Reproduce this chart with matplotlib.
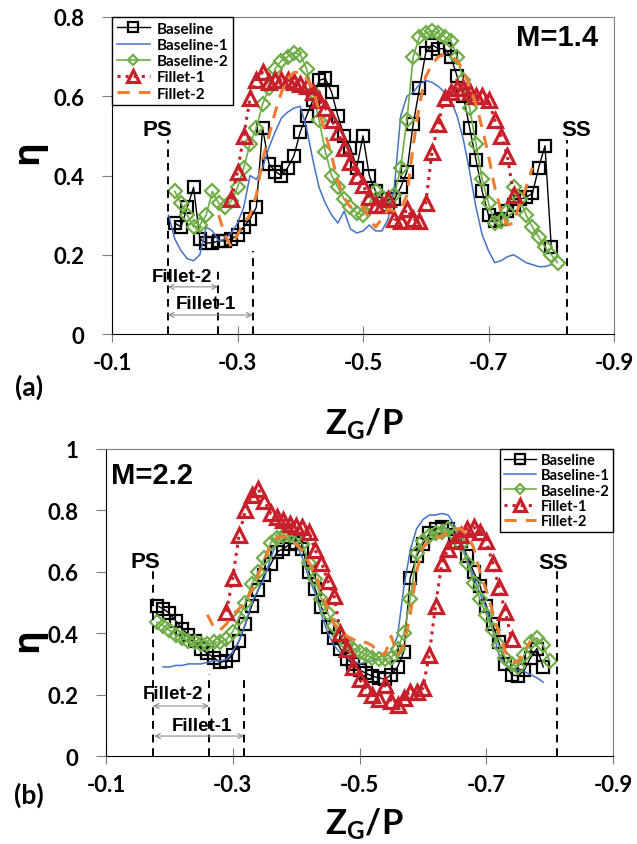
import numpy as np
import matplotlib
matplotlib.use('Agg')
import matplotlib.pyplot as plt

plt.rcParams['font.family'] = ['Lato', 'DejaVu Sans']
plt.rcParams['font.weight'] = 'bold'
plt.rcParams['mathtext.fontset'] = 'custom'
plt.rcParams['mathtext.rm'] = 'Lato:bold'
plt.rcParams['mathtext.it'] = 'Lato:bold'
plt.rcParams['mathtext.bf'] = 'Lato:bold'

SERIES = ['Baseline', 'Baseline-1', 'Baseline-2', 'Fillet-1', 'Fillet-2']
X_TICKS = [-0.1, -0.3, -0.5, -0.7, -0.9]
X_TICK_LABELS = ['-0.1', '-0.3', '-0.5', '-0.7', '-0.9']

# eta sampled every 0.01 of Z_G/P, beginning at the listed start position
# (a) M = 1.4
A_START = [-0.20, -0.19, -0.20, -0.29, -0.27]
A_BASE = [0.28, 0.27, 0.32, 0.37, 0.24, 0.23, 0.23, 0.235, 0.235, 0.24,
          0.25, 0.27, 0.29, 0.32, 0.52, 0.43, 0.41, 0.40, 0.42, 0.45,
          0.51, 0.55, 0.59, 0.64, 0.645, 0.61, 0.55, 0.50, 0.47, 0.42,
          0.50, 0.40, 0.36, 0.34, 0.325, 0.34, 0.37, 0.41, 0.53, 0.62,
          0.71, 0.73, 0.72, 0.72, 0.70, 0.65, 0.60, 0.52, 0.44, 0.36,
          0.30, 0.285, 0.29, 0.31, 0.325, 0.34, 0.345, 0.355, 0.42, 0.475,
          0.22]
A_BASE1 = [0.30, 0.24, 0.21, 0.19, 0.185, 0.20, 0.27, 0.26, 0.235, 0.24,
           0.255, 0.28, 0.32, 0.40, 0.39, 0.42, 0.47, 0.51, 0.545, 0.56,
           0.57, 0.575, 0.52, 0.44, 0.37, 0.33, 0.30, 0.28, 0.31, 0.265,
           0.255, 0.26, 0.275, 0.26, 0.26, 0.29, 0.37, 0.55, 0.60, 0.61,
           0.63, 0.64, 0.635, 0.625, 0.61, 0.59, 0.55, 0.49, 0.41, 0.32,
           0.25, 0.21, 0.18, 0.185, 0.195, 0.20, 0.19, 0.18, 0.175, 0.17,
           0.17, 0.175]
A_BASE2 = [0.36, 0.33, 0.30, 0.27, 0.275, 0.30, 0.36, 0.33, 0.32, 0.335,
           0.37, 0.42, 0.48, 0.52, 0.58, 0.62, 0.67, 0.69, 0.70, 0.71,
           0.705, 0.67, 0.61, 0.54, 0.46, 0.40, 0.37, 0.34, 0.32, 0.305,
           0.30, 0.33, 0.36, 0.345, 0.33, 0.35, 0.42, 0.54, 0.70, 0.75,
           0.76, 0.765, 0.76, 0.75, 0.74, 0.70, 0.64, 0.57, 0.48, 0.39,
           0.33, 0.28, 0.285, 0.31, 0.37, 0.34, 0.30, 0.27, 0.245, 0.22,
           0.20, 0.18]
A_FIL1 = [0.34, 0.41, 0.50, 0.595, 0.64, 0.66, 0.635, 0.64, 0.64, 0.64,
          0.635, 0.63, 0.625, 0.61, 0.59, 0.57, 0.54, 0.51, 0.47, 0.435,
          0.40, 0.375, 0.345, 0.325, 0.325, 0.34, 0.29, 0.285, 0.315, 0.29,
          0.285, 0.33, 0.46, 0.53, 0.595, 0.61, 0.62, 0.62, 0.61, 0.60,
          0.60, 0.59, 0.54, 0.50, 0.45, 0.35]
A_FIL2 = [0.30, 0.25, 0.22, 0.25, 0.28, 0.30, 0.35, 0.44, 0.50, 0.56,
          0.61, 0.645, 0.66, 0.66, 0.645, 0.62, 0.565, 0.505, 0.45, 0.385,
          0.345, 0.32, 0.325, 0.32, 0.29, 0.27, 0.29, 0.315, 0.31, 0.315,
          0.35, 0.475, 0.58, 0.65, 0.68, 0.70, 0.705, 0.70, 0.69, 0.665,
          0.625, 0.58, 0.52, 0.45, 0.37, 0.31, 0.275, 0.28, 0.33, 0.37,
          0.42]

# (b) M = 2.2
B_START = [-0.18, -0.19, -0.18, -0.29, -0.26]
B_BASE = [0.49, 0.48, 0.465, 0.44, 0.415, 0.395, 0.375, 0.35, 0.335, 0.32,
          0.305, 0.31, 0.33, 0.375, 0.43, 0.49, 0.54, 0.59, 0.625, 0.665,
          0.675, 0.69, 0.695, 0.675, 0.60, 0.545, 0.485, 0.42, 0.385, 0.35,
          0.315, 0.30, 0.28, 0.27, 0.26, 0.255, 0.25, 0.265, 0.29, 0.34,
          0.58, 0.65, 0.69, 0.725, 0.74, 0.745, 0.74, 0.72, 0.70, 0.65,
          0.60, 0.555, 0.49, 0.43, 0.37, 0.30, 0.265, 0.26, 0.28, 0.32,
          0.35, 0.29]
B_BASE1 = [0.29, 0.29, 0.295, 0.295, 0.30, 0.30, 0.30, 0.305, 0.31, 0.31,
           0.315, 0.34, 0.375, 0.43, 0.50, 0.54, 0.58, 0.645, 0.70, 0.745,
           0.73, 0.69, 0.645, 0.58, 0.53, 0.46, 0.40, 0.36, 0.335, 0.32,
           0.31, 0.30, 0.305, 0.31, 0.32, 0.33, 0.34, 0.39, 0.55, 0.67,
           0.74, 0.77, 0.785, 0.785, 0.79, 0.785, 0.75, 0.70, 0.64, 0.585,
           0.53, 0.48, 0.41, 0.33, 0.30, 0.285, 0.28, 0.275, 0.265, 0.255,
           0.24]
B_BASE2 = [0.435, 0.425, 0.41, 0.395, 0.385, 0.375, 0.37, 0.365, 0.365, 0.37,
           0.37, 0.38, 0.405, 0.45, 0.50, 0.56, 0.60, 0.645, 0.695, 0.71,
           0.715, 0.72, 0.71, 0.69, 0.63, 0.575, 0.51, 0.465, 0.425, 0.39,
           0.365, 0.35, 0.34, 0.33, 0.32, 0.315, 0.315, 0.32, 0.35, 0.40,
           0.51, 0.66, 0.70, 0.715, 0.725, 0.73, 0.74, 0.72, 0.69, 0.63,
           0.565, 0.51, 0.46, 0.41, 0.36, 0.32, 0.30, 0.29, 0.33, 0.37,
           0.385, 0.36, 0.31]
B_FIL1 = [0.47, 0.58, 0.72, 0.80, 0.85, 0.87, 0.83, 0.79, 0.78, 0.77,
          0.755, 0.75, 0.745, 0.73, 0.67, 0.63, 0.57, 0.52, 0.40, 0.35,
          0.29, 0.25, 0.22, 0.20, 0.185, 0.23, 0.18, 0.165, 0.19, 0.21,
          0.21, 0.22, 0.33, 0.49, 0.63, 0.675, 0.70, 0.72, 0.74, 0.745,
          0.73, 0.70, 0.63, 0.55, 0.47, 0.38]
B_FIL2 = [0.46, 0.42, 0.41, 0.43, 0.46, 0.48, 0.50, 0.54, 0.59, 0.64,
          0.69, 0.71, 0.715, 0.705, 0.69, 0.67, 0.63, 0.60, 0.53, 0.48,
          0.43, 0.41, 0.39, 0.38, 0.37, 0.37, 0.36, 0.335, 0.33, 0.39,
          0.33, 0.36, 0.46, 0.60, 0.68, 0.70, 0.71, 0.715, 0.73, 0.74,
          0.74, 0.72, 0.68, 0.60, 0.54, 0.47, 0.40, 0.34, 0.31, 0.305,
          0.34, 0.375]

# wall markers: PS edge, fillet-2 end, fillet-1 end, SS edge
A_WALLS = [-0.189, -0.269, -0.324, -0.825]
A_WALL_TOPS = [0.49, 0.165, 0.21, 0.49]
B_WALLS = [-0.174, -0.2625, -0.318, -0.812]
B_WALL_TOPS = [0.608, 0.267, 0.26, 0.608]

STYLES = {
    'Baseline': dict(color='black', marker='s', ms=8.5, mfc='none', mew=1.6, lw=1.0),
    'Baseline-1': dict(color='#4472C4', lw=1.1),
    'Baseline-2': dict(color='#70AD47', marker='D', ms=7, mfc='none', mew=1.6, lw=1.2),
    'Fillet-1': dict(color='#C8202A', marker='^', ms=10, mfc='none', mew=2.3, ls=':', lw=2.2),
    'Fillet-2': dict(color='#ED7D31', ls=(0, (4, 3)), lw=2.2),
}

ANNOT_FONT = dict(family='Liberation Sans', weight='bold')


def z_positions(start, count):
    return start - 0.01 * np.arange(count)


def draw_panel(ax, starts, curves, walls, wall_tops, ymax, yticks, ylabels):
    for name, start, eta in zip(SERIES, starts, curves):
        ax.plot(z_positions(start, len(eta)), eta, label=name, **STYLES[name])
    for x, top in zip(walls, wall_tops):
        ax.plot([x, x], [0, top], color='black', ls=(0, (4, 3)), lw=1.4)
    ax.set_xlim(-0.1, -0.9)
    ax.set_ylim(0, ymax)
    ax.set_xticks(X_TICKS)
    ax.set_xticklabels(X_TICK_LABELS)
    ax.set_yticks(yticks)
    ax.set_yticklabels(ylabels)
    ax.tick_params(axis='x', direction='inout', length=12, color='#7f7f7f',
                   labelsize=16, pad=7)
    ax.tick_params(axis='y', direction='out', length=7, color='#7f7f7f',
                   labelsize=16, pad=13)
    for s in ['top', 'right']:
        ax.spines[s].set_color('#808080')
    for s in ['left', 'bottom']:
        ax.spines[s].set_color('black')


def fillet_arrow(ax, x0, x1, y):
    ax.annotate('', xy=(x1, y), xytext=(x0, y),
                arrowprops=dict(arrowstyle='<->', color='#8c8c8c', lw=0.8,
                                mutation_scale=9, shrinkA=0, shrinkB=0))


fig = plt.figure(figsize=(6.37, 8.45), dpi=100)
W, H = 637.0, 845.0

ax_a = fig.add_axes([112 / W, 1 - 335 / H, 502 / W, 317 / H])
draw_panel(ax_a, A_START, [A_BASE, A_BASE1, A_BASE2, A_FIL1, A_FIL2],
           A_WALLS, A_WALL_TOPS, 0.8,
           [0, 0.2, 0.4, 0.6, 0.8], ['0', '0.2', '0.4', '0.6', '0.8'])
fillet_arrow(ax_a, A_WALLS[0], A_WALLS[1], 0.119)
fillet_arrow(ax_a, A_WALLS[0], A_WALLS[2], 0.048)
ax_a.text(-0.173, 0.516, 'PS', fontsize=16, ha='center', va='center', **ANNOT_FONT)
ax_a.text(-0.839, 0.516, 'SS', fontsize=16, ha='center', va='center', **ANNOT_FONT)
ax_a.text(-0.2116, 0.144, 'Fillet-2', fontsize=13.5, ha='center', va='center', **ANNOT_FONT)
ax_a.text(-0.25, 0.078, 'Fillet-1', fontsize=13.5, ha='center', va='center', **ANNOT_FONT)
ax_a.text(-0.809, 0.749, 'M=1.4', fontsize=21, ha='center', va='center', **ANNOT_FONT)
ax_a.legend(loc='upper left', bbox_to_anchor=(0, 1), borderaxespad=0,
            fontsize=11, frameon=True, fancybox=False, edgecolor='black',
            framealpha=1, handlelength=2.2, handletextpad=0.4,
            labelspacing=0.15, borderpad=0.3, numpoints=1,
            markerscale=0.8).get_frame().set_linewidth(1.0)

ax_b = fig.add_axes([106 / W, 1 - 757 / H, 507 / W, 307 / H])
draw_panel(ax_b, B_START, [B_BASE, B_BASE1, B_BASE2, B_FIL1, B_FIL2],
           B_WALLS, B_WALL_TOPS, 1.0,
           [0, 0.2, 0.4, 0.6, 0.8, 1.0], ['0', '0.2', '0.4', '0.6', '0.8', '1'])
fillet_arrow(ax_b, B_WALLS[0], B_WALLS[1], 0.163)
fillet_arrow(ax_b, -0.176, B_WALLS[2], 0.065)
ax_b.text(-0.1615, 0.634, 'PS', fontsize=16, ha='center', va='center', **ANNOT_FONT)
ax_b.text(-0.805, 0.63, 'SS', fontsize=16, ha='center', va='center', **ANNOT_FONT)
ax_b.text(-0.2057, 0.205, 'Fillet-2', fontsize=13.5, ha='center', va='center', **ANNOT_FONT)
ax_b.text(-0.2515, 0.10, 'Fillet-1', fontsize=13.5, ha='center', va='center', **ANNOT_FONT)
ax_b.text(-0.1726, 0.914, 'M=2.2', fontsize=21, ha='center', va='center', **ANNOT_FONT)
ax_b.legend(loc='upper right', bbox_to_anchor=(1, 1), borderaxespad=0,
            fontsize=10.5, frameon=True, fancybox=False, edgecolor='black',
            framealpha=1, handlelength=2.2, handletextpad=0.3,
            labelspacing=0.1, borderpad=0.25, numpoints=1,
            markerscale=0.8).get_frame().set_linewidth(1.0)

# axis titles and panel tags
for y_eta, y_tag, y_xlab in [(152, 387, 424), (640, 795, 824)]:
    fig.text(28 / W, 1 - y_eta / H, 'η', fontsize=26, rotation=90, ha='center',
             va='center', family=['Open Sans', 'DejaVu Sans'], weight='bold')
    fig.text(29 / W, 1 - y_tag / H, '(a)' if y_tag < 500 else '(b)', fontsize=19,
             ha='center', va='center')
    fig.text(364 / W, 1 - y_xlab / H, r'$\mathregular{Z_G/P}$', fontsize=25,
             ha='center', va='center')

fig.savefig('out.png', dpi=100)
